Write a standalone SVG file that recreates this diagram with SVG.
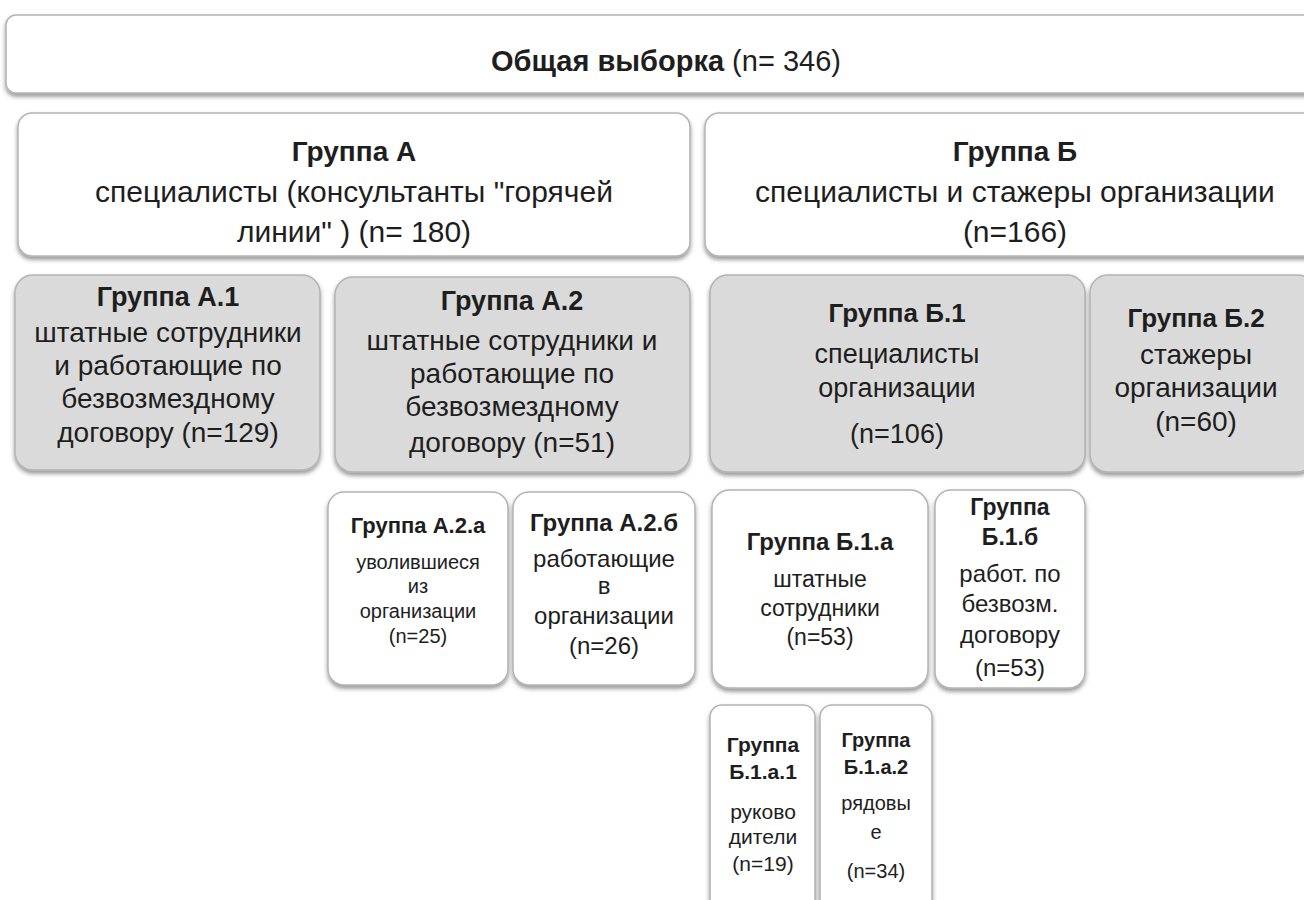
<svg xmlns="http://www.w3.org/2000/svg" width="1304" height="900" viewBox="0 0 1304 900">
<defs>
<filter id="sh" x="-5%" y="-5%" width="110%" height="120%">
<feDropShadow dx="0" dy="3" stdDeviation="2" flood-color="#444" flood-opacity="0.55"/>
</filter>
</defs>
<style>
.w{fill:#ffffff;stroke:#b4b4b4;stroke-width:1.5;filter:url(#sh)}
.g{fill:#dadada;stroke:#b4b4b4;stroke-width:1.5;filter:url(#sh)}
text{font-family:"Liberation Sans",Arial,sans-serif;fill:#1e1e1e;text-anchor:middle}
.b{font-weight:bold}
</style>
<rect width="1304" height="900" fill="#ffffff"/>
<g id="total">
<rect class="w" x="6" y="15" width="1310" height="78" rx="10"/>
<text x="666" y="71" style="font-size:29px"><tspan class="b">Общая выборка</tspan>  (n= 346)</text>
</g>
<g id="groupA" style="font-size:30px">
<rect class="w" x="18" y="113" width="672" height="143" rx="14"/>
<text class="b" x="354" y="161" style="font-size:28px">Группа А</text>
<text x="354" y="202">специалисты (консультанты "горячей</text>
<text x="354" y="242">линии" ) (n= 180)</text>
</g>
<g id="groupB" style="font-size:30px">
<rect class="w" x="705" y="113" width="620" height="143" rx="14"/>
<text class="b" x="1015" y="161" style="font-size:28px">Группа Б</text>
<text x="1015" y="202">специалисты и стажеры организации</text>
<text x="1015" y="242">(n=166)</text>
</g>
<g id="groupA1" style="font-size:28px">
<rect class="g" x="15" y="275" width="305" height="195" rx="18"/>
<text class="b" x="168" y="306" style="font-size:27px">Группа А.1</text>
<text x="168" y="342">штатные сотрудники</text>
<text x="168" y="375">и работающие по</text>
<text x="168" y="408">безвозмездному</text>
<text x="168" y="442">договору (n=129)</text>
</g>
<g id="groupA2" style="font-size:28px">
<rect class="g" x="335" y="277" width="355" height="195" rx="18"/>
<text class="b" x="512" y="310" style="font-size:27px">Группа А.2</text>
<text x="512" y="350">штатные сотрудники и</text>
<text x="512" y="383">работающие по</text>
<text x="512" y="416">безвозмездному</text>
<text x="512" y="452">договору (n=51)</text>
</g>
<g id="groupB1" style="font-size:27px">
<rect class="g" x="710" y="275" width="375" height="197" rx="18"/>
<text class="b" x="897" y="322" style="font-size:26px">Группа Б.1</text>
<text x="897" y="363">специалисты</text>
<text x="897" y="397">организации</text>
<text x="897" y="443">(n=106)</text>
</g>
<g id="groupB2" style="font-size:28px">
<rect class="g" x="1090" y="275" width="225" height="197" rx="18"/>
<text class="b" x="1196" y="327" style="font-size:26px">Группа Б.2</text>
<text x="1196" y="364">стажеры</text>
<text x="1196" y="397">организации</text>
<text x="1196" y="431">(n=60)</text>
</g>
<g id="groupA2a" style="font-size:20px">
<rect class="w" x="328" y="492" width="180" height="193" rx="16"/>
<text class="b" x="418" y="533" style="font-size:22px">Группа А.2.а</text>
<text x="418" y="569">уволившиеся</text>
<text x="418" y="593">из</text>
<text x="418" y="618">организации</text>
<text x="418" y="643">(n=25)</text>
</g>
<g id="groupA2b" style="font-size:24px">
<rect class="w" x="513" y="492" width="182" height="193" rx="16"/>
<text class="b" x="604" y="531" style="font-size:24px">Группа А.2.б</text>
<text x="604" y="567">работающие</text>
<text x="604" y="594">в</text>
<text x="604" y="624">организации</text>
<text x="604" y="654">(n=26)</text>
</g>
<g id="groupB1a" style="font-size:23px">
<rect class="w" x="712" y="490" width="216" height="198" rx="18"/>
<text class="b" x="820" y="550" style="font-size:24px">Группа Б.1.а</text>
<text x="820" y="587">штатные</text>
<text x="820" y="616">сотрудники</text>
<text x="820" y="645">(n=53)</text>
</g>
<g id="groupB1b" style="font-size:24px">
<rect class="w" x="935" y="490" width="150" height="198" rx="16"/>
<text class="b" x="1010" y="515" style="font-size:23px">Группа</text>
<text class="b" x="1010" y="545" style="font-size:23px">Б.1.б</text>
<text x="1010" y="582">работ. по</text>
<text x="1010" y="612">безвозм.</text>
<text x="1010" y="643">договору</text>
<text x="1010" y="676">(n=53)</text>
</g>
<g id="groupB1a1" style="font-size:21px">
<rect class="w" x="710" y="705" width="105" height="210" rx="12"/>
<text class="b" x="763" y="752">Группа</text>
<text class="b" x="763" y="779">Б.1.а.1</text>
<text x="763" y="819">руково</text>
<text x="763" y="844">дители</text>
<text x="763" y="871">(n=19)</text>
</g>
<g id="groupB1a2" style="font-size:20px">
<rect class="w" x="820" y="705" width="112" height="210" rx="12"/>
<text class="b" x="876" y="747">Группа</text>
<text class="b" x="876" y="774">Б.1.а.2</text>
<text x="876" y="810">рядовы</text>
<text x="876" y="839">е</text>
<text x="876" y="878">(n=34)</text>
</g>
</svg>
